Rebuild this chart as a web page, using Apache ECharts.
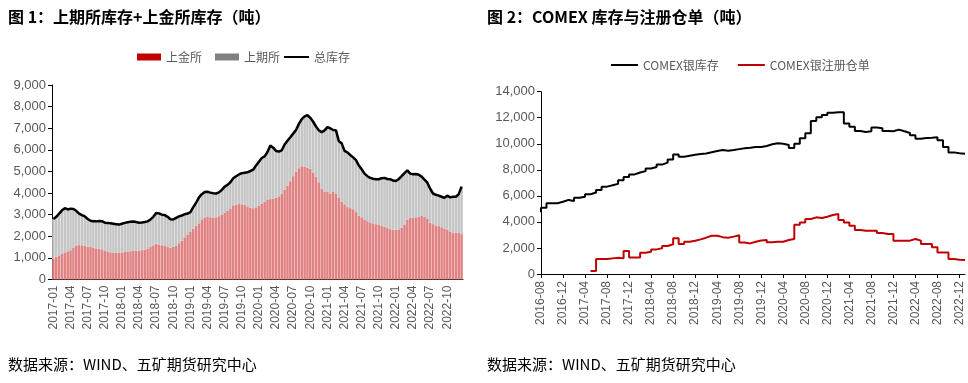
<!DOCTYPE html>
<html><head><meta charset="utf-8">
<script src="https://cdn.jsdelivr.net/npm/echarts@6/dist/echarts.min.js"></script>
<style>html,body{margin:0;padding:0;background:#fff}#c{width:968px;height:383px}</style>
</head><body><div id="c"></div>
<script>
// ---- Figure 1: semi-monthly, 2017-01 .. 2022-12 (tonnes)
const sgeStock = [
 950,1050,1120,1200,1250,1300,1350,1480,1570,1590,
 1580,1560,1520,1500,1470,1440,1420,1400,1340,1300,
 1260,1240,1230,1230,1250,1280,1300,1310,1320,1330,
 1340,1360,1380,1430,1500,1580,1660,1620,1580,1550,
 1500,1480,1510,1560,1680,1800,1950,2080,2200,2350,
 2480,2600,2780,2870,2890,2880,2870,2880,2930,3000,
 3080,3180,3280,3400,3460,3490,3480,3450,3380,3320,
 3300,3340,3420,3500,3600,3700,3720,3740,3790,3850,
 3960,4150,4350,4550,4780,4990,5150,5240,5230,5180,
 5120,4950,4750,4500,4200,4080,4050,3980,4050,3980,
 3800,3600,3480,3350,3300,3250,3120,2960,2880,2780,
 2700,2640,2600,2560,2520,2480,2440,2380,2330,2310,
 2300,2320,2400,2550,2780,2850,2860,2880,2900,2940,
 2900,2800,2620,2560,2500,2470,2420,2360,2300,2200,
 2160,2170,2150,2100
];
const shfeStock = [
 1850,1850,1930,2000,2050,1940,1930,1780,1610,1460,
 1400,1360,1280,1220,1230,1250,1290,1300,1290,1320,
 1340,1340,1330,1310,1330,1340,1350,1360,1360,1330,
 1290,1280,1280,1260,1280,1320,1420,1440,1420,1430,
 1400,1310,1270,1290,1240,1160,1070,970,920,1000,
 1070,1200,1170,1180,1170,1140,1120,1100,1100,1150,
 1220,1200,1220,1280,1320,1370,1440,1490,1580,1700,
 1780,1940,2030,2120,2100,2200,2480,2360,2160,2070,
 2020,2100,2070,2030,1970,1930,2050,2180,2320,2420,
 2360,2350,2330,2400,2620,2820,3000,3020,2870,2920,
 2600,2700,2470,2530,2460,2400,2400,2320,2220,2120,
 2080,2060,2060,2080,2120,2210,2260,2270,2310,2270,
 2260,2330,2380,2370,2270,2050,2010,2000,1950,1820,
 1720,1680,1580,1420,1420,1410,1410,1420,1580,1600,
 1670,1660,1800,2200
];
// ---- Figure 2: monthly, 2016-08 .. 2023-01 (tonnes)
const comexStock = [
 4750,
 5080,5430,5430,5550,5690,5600,5850,5940,6120,6260,
 6450,6710,6810,6920,7200,7450,7650,7800,7900,8100,
 8220,8400,8550,8800,9180,9000,9080,9150,9210,9250,
 9350,9450,9520,9470,9520,9590,9650,9700,9760,9760,
 9830,9960,10040,10010,9910,9680,10010,10420,10810,11750,
 12040,12210,12390,12420,12420,11550,11300,10990,10910,10960,
 11250,11200,10990,10960,11090,10960,10830,10650,10390,10450,
 10470,10500,10270,9760,9340,9270,9230
];
const comexRegistered = [
 null,null,null,null,null,null,null,null,null,null,
 230,
 1150,1150,1200,1250,1200,1770,1260,1260,1640,1710,
 1890,1970,2150,2280,2750,2300,2480,2560,2660,2790,
 2940,2940,2830,2790,2870,2970,2420,2350,2480,2580,
 2610,2430,2480,2480,2610,2690,3780,3960,4220,4350,
 4300,4400,4530,4600,4140,3960,3710,3380,3330,3330,
 3330,3150,3070,3070,2560,2560,2560,2690,2560,2300,
 2300,2050,1660,1660,1150,1100,1080
];
const leftYTicks = {min: 0, max: 9000, step: 1000};
const rightYTicks = {min: 0, max: 14000, step: 2000};

const pad = n => (n < 10 ? '0' : '') + n;
const leftCats = [];
for (let y = 2017; y <= 2022; y++) for (let m = 1; m <= 12; m++) {
  leftCats.push(y + '-' + pad(m) + '-01'); leftCats.push(y + '-' + pad(m) + '-16');
}
const rightCats = [];
{ let y = 2016, m = 8; while (rightCats.length < comexStock.length) { rightCats.push(y + '-' + pad(m)); m++; if (m > 12) { m = 1; y++; } } }
const totalStock = sgeStock.map((v, i) => v + shfeStock[i]);

const GRAY = '#595959';
const CJK = '"Noto Sans CJK SC", "Liberation Sans", sans-serif';
const NUM = '"Liberation Sans", "Noto Sans CJK SC", sans-serif';
const fmt = v => v.toLocaleString('en-US');
const legendText = {color: GRAY, fontSize: 12, fontFamily: CJK};

const chart = echarts.init(document.getElementById('c'), null, {renderer: 'canvas'});
chart.setOption({
  animation: false,
  backgroundColor: '#fff',
  graphic: [
    {type: 'text', left: 8, top: 9, style: {text: '图 1：上期所库存+上金所库存（吨）', fill: '#000', font: 'bold 16px ' + CJK}},
    {type: 'text', left: 487, top: 9, style: {text: '图 2：COMEX 库存与注册仓单（吨）', fill: '#000', font: 'bold 16px ' + CJK}},
    {type: 'text', left: 8, top: 357, style: {text: '数据来源：WIND、五矿期货研究中心', fill: '#000', font: '15px ' + CJK}},
    {type: 'text', left: 487, top: 357, style: {text: '数据来源：WIND、五矿期货研究中心', fill: '#000', font: '15px ' + CJK}}
  ],
  legend: [
    {
      data: [
        {name: '上金所', icon: 'rect', itemStyle: {color: '#C00000'}},
        {name: '上期所', icon: 'rect', itemStyle: {color: '#808080'}}
      ],
      left: 132, top: 46, itemWidth: 24, itemHeight: 7, itemGap: 13,
      textStyle: legendText
    },
    {
      data: [{name: '总库存', icon: 'rect', itemStyle: {color: '#000'}}],
      left: 279, top: 46, itemWidth: 25, itemHeight: 2,
      textStyle: legendText
    },
    {
      data: [
        {name: 'COMEX银库存', icon: 'rect', itemStyle: {color: '#000'}},
        {name: 'COMEX银注册仓单', icon: 'rect', itemStyle: {color: '#C00000'}}
      ],
      left: 606, top: 54, itemWidth: 27, itemHeight: 2, itemGap: 19,
      textStyle: legendText
    }
  ],
  grid: [
    {left: 52, top: 85, width: 411, height: 194.5, containLabel: false},
    {left: 541, top: 91.7, width: 424, height: 182.3, containLabel: false}
  ],
  xAxis: [
    {
      type: 'category', gridIndex: 0, data: leftCats, boundaryGap: true,
      axisLine: {lineStyle: {color: '#000', width: 1}},
      axisTick: {interval: (i) => i % 6 === 0, length: 4, lineStyle: {color: '#000'}},
      axisLabel: {interval: (i) => i % 6 === 0, rotate: 90, margin: 6, color: GRAY, fontSize: 12, fontFamily: NUM,
        formatter: v => v.slice(0, 7)},
      splitLine: {show: false}
    },
    {
      type: 'category', gridIndex: 1, data: rightCats, boundaryGap: false,
      axisLine: {lineStyle: {color: '#000', width: 1}},
      axisTick: {interval: (i) => i % 4 === 0, length: 4, lineStyle: {color: '#000'}},
      axisLabel: {interval: (i) => i % 4 === 0, rotate: 90, margin: 7, color: GRAY, fontSize: 12, fontFamily: NUM},
      splitLine: {show: false}
    }
  ],
  yAxis: [
    {
      type: 'value', gridIndex: 0, min: leftYTicks.min, max: leftYTicks.max, interval: leftYTicks.step,
      axisLine: {show: true, lineStyle: {color: '#000'}},
      axisTick: {show: true, length: 4, lineStyle: {color: '#000'}},
      axisLabel: {color: GRAY, fontSize: 13, fontFamily: NUM, margin: 6, formatter: fmt},
      splitLine: {show: false}
    },
    {
      type: 'value', gridIndex: 1, min: rightYTicks.min, max: rightYTicks.max, interval: rightYTicks.step,
      axisLine: {show: true, lineStyle: {color: '#000'}},
      axisTick: {show: true, length: 4, lineStyle: {color: '#000'}},
      axisLabel: {color: GRAY, fontSize: 13, fontFamily: NUM, margin: 6, formatter: fmt},
      splitLine: {show: false}
    }
  ],
  series: [
    {name: '上金所', type: 'bar', stack: 'inv', xAxisIndex: 0, yAxisIndex: 0, data: sgeStock,
      barCategoryGap: '12%', itemStyle: {color: '#E08282'}},
    {name: '上期所', type: 'bar', stack: 'inv', xAxisIndex: 0, yAxisIndex: 0, data: shfeStock,
      barCategoryGap: '12%', itemStyle: {color: '#C5C5C5'}},
    {name: '总库存', type: 'line', xAxisIndex: 0, yAxisIndex: 0, data: totalStock, symbol: 'none', z: 5,
      lineStyle: {color: '#000', width: 2.5}, itemStyle: {color: '#000'}},
    {name: 'COMEX银库存', type: 'line', step: 'start', xAxisIndex: 1, yAxisIndex: 1, data: comexStock, symbol: 'none',
      lineStyle: {color: '#000', width: 2}, itemStyle: {color: '#000'}},
    {name: 'COMEX银注册仓单', type: 'line', step: 'start', xAxisIndex: 1, yAxisIndex: 1, data: comexRegistered, symbol: 'none',
      lineStyle: {color: '#C00000', width: 2}, itemStyle: {color: '#C00000'}}
  ]
});
</script>
</body></html>
